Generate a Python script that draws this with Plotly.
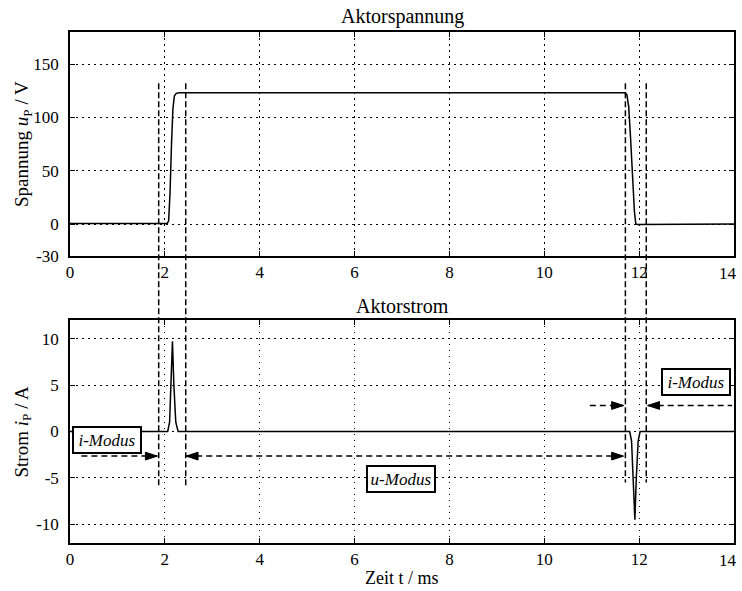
import plotly.graph_objects as go
from plotly.subplots import make_subplots

# ---------------- data ----------------
t_u = [0, 2.05, 2.08, 2.11, 2.14, 2.17, 2.20, 2.24, 2.30, 11.70, 11.74, 11.78, 11.82, 11.86, 11.90, 11.93, 11.96, 14]
u_p = [0.5, 0.5, 3, 30, 75, 108, 120, 122.5, 123, 123, 121.5, 110, 80, 45, 12, 0, -0.5, 0]

t_i = [0, 2.06, 2.10, 2.13, 2.16, 2.19, 2.23, 2.28, 11.80, 11.84, 11.88, 11.91, 11.94, 11.98, 12.02, 14]
i_p = [0, 0, 1, 5, 9.7, 5, 1, 0, 0, -1, -5, -9.5, -5, -1, 0, 0]

x_ticks = [0, 2, 4, 6, 8, 10, 12]
x_ticktext = ["0", "2", "4", "6", "8", "10", "12"]
x_last_label = "14"          # at the right border, placed separately so it stays on the page
u_ticks = [-30, 0, 50, 100, 150]
u_ticktext = ["-30", "0", "50", "100", "150"]
i_ticks = [-10, -5, 0, 5, 10]
i_ticktext = ["-10", "-5", "0", "5", "10"]
u_range = [-30, 180]
i_range = [-12, 12]
x_range = [0, 14]

# mode boundaries (vertical dashed lines spanning both plots)
bound_t = [1.87, 2.44, 11.71, 12.15]
bound_top_u = [132, 132, 132, 132]
bound_bot_i = [-5.9, -5.9, -5.5, -5.5]

# dashed arrow lines
arrow_t0 = [0.24, 2.45, 10.96, 12.18]
arrow_t1 = [1.84, 11.67, 11.67, 13.96]
arrow_lvl = [-2.65, -2.65, 2.8, 2.8]
arrow_head0 = [False, True, False, True]
arrow_head1 = [True, True, True, False]
head_len = 0.25    # arrowhead length in ms
head_half = 0.42   # arrowhead half height in A

# mode labels
label_text = ["i-Modus", "u-Modus", "i-Modus"]
label_t = [0.77, 6.97, 13.2]
label_i = [-0.9, -5.1, 5.3]

# ---------------- layout geometry ----------------
dom_top = [0.5616, 1.0]
dom_bot = [0.0, 0.4364]

FONT = "Liberation Serif, Times New Roman, Times, serif"


def to_paper(v, rng, dom):
    return dom[0] + (v - rng[0]) / (rng[1] - rng[0]) * (dom[1] - dom[0])


fig = make_subplots(rows=2, cols=1, shared_xaxes=False)

fig.add_trace(go.Scatter(x=t_u, y=u_p, mode="lines",
                         line=dict(color="black", width=1.5), showlegend=False),
              row=1, col=1)
fig.add_trace(go.Scatter(x=t_i, y=i_p, mode="lines",
                         line=dict(color="black", width=1.5), showlegend=False),
              row=2, col=1)

axis_common = dict(
    showline=True, linecolor="black", linewidth=1.5, mirror="allticks",
    ticks="inside", ticklen=5, tickwidth=1, tickcolor="black",
    showgrid=True, gridcolor="black", gridwidth=1, griddash="1.5px,4.5px",
    zeroline=False, tickfont=dict(family=FONT, size=17, color="black"),
)

fig.update_layout(
    xaxis=dict(axis_common, range=x_range, tickvals=x_ticks, ticktext=x_ticktext,
               domain=[0, 1], anchor="y", ticklabelstandoff=0),
    yaxis=dict(axis_common, range=u_range, tickvals=u_ticks, ticktext=u_ticktext,
               domain=dom_top, anchor="x", ticklabelstandoff=6),
    xaxis2=dict(axis_common, range=x_range, tickvals=x_ticks, ticktext=x_ticktext,
                domain=[0, 1], anchor="y2", ticklabelstandoff=0),
    yaxis2=dict(axis_common, range=i_range, tickvals=i_ticks, ticktext=i_ticktext,
                domain=dom_bot, anchor="x2", ticklabelstandoff=6),
    width=742, height=591,
    margin=dict(l=70, r=6, t=32, b=48),
    paper_bgcolor="white", plot_bgcolor="white",
    font=dict(family=FONT, color="black"),
    showlegend=False,
)

# last x tick label ("14") kept inside the page
for xr, yr in (("x", "y"), ("x2", "y2")):
    fig.add_annotation(x=x_range[1], y=0, xref=xr, yref=yr + " domain", xanchor="right",
                       yanchor="top", xshift=5, yshift=-6, showarrow=False,
                       text=x_last_label, font=dict(family=FONT, size=17, color="black"))

# vertical dashed boundary lines across both plots
for t, top, bot in zip(bound_t, bound_top_u, bound_bot_i):
    fig.add_shape(type="line", xref="x", yref="paper",
                  x0=t, x1=t,
                  y0=to_paper(top, u_range, dom_top), y1=to_paper(bot, i_range, dom_bot),
                  line=dict(color="black", width=1.5, dash="6px,3px"))

# dashed horizontal arrow lines with filled arrowheads
for t0, t1, lv, h0, h1 in zip(arrow_t0, arrow_t1, arrow_lvl, arrow_head0, arrow_head1):
    fig.add_shape(type="line", xref="x2", yref="y2", x0=t0, x1=t1, y0=lv, y1=lv,
                  line=dict(color="black", width=1.5, dash="6px,4px"))
    if h1:
        fig.add_shape(type="path", xref="x2", yref="y2",
                      path="M %f,%f L %f,%f L %f,%f Z" % (t1, lv, t1 - head_len, lv + head_half,
                                                        t1 - head_len, lv - head_half),
                      fillcolor="black", line=dict(color="black", width=1))
    if h0:
        fig.add_shape(type="path", xref="x2", yref="y2",
                      path="M %f,%f L %f,%f L %f,%f Z" % (t0, lv, t0 + head_len, lv + head_half,
                                                        t0 + head_len, lv - head_half),
                      fillcolor="black", line=dict(color="black", width=1))

# mode labels in boxes
for txt, t, lv in zip(label_text, label_t, label_i):
    fig.add_annotation(x=t, y=lv, xref="x2", yref="y2", showarrow=False,
                       text="<i>%s</i>" % txt,
                       font=dict(family=FONT, size=17, color="black"),
                       bgcolor="white", bordercolor="black", borderwidth=2,
                       borderpad=2, width=62, height=20)

# titles
fig.add_annotation(x=0.5, y=dom_top[1], xref="paper", yref="paper", xanchor="center",
                   yanchor="bottom", yshift=2, showarrow=False, text="Aktorspannung",
                   font=dict(family=FONT, size=20, color="black"))
fig.add_annotation(x=0.5, y=dom_bot[1], xref="paper", yref="paper", xanchor="center",
                   yanchor="bottom", yshift=1, showarrow=False, text="Aktorstrom",
                   font=dict(family=FONT, size=20, color="black"))
fig.add_annotation(x=0.5, y=0, xref="paper", yref="paper", xanchor="center",
                   yanchor="bottom", yshift=-47, showarrow=False, text="Zeit t / ms",
                   font=dict(family=FONT, size=18, color="black"))

# y axis titles
fig.add_annotation(x=0, y=(dom_top[0] + dom_top[1]) / 2, xref="paper", yref="paper",
                   xanchor="center", yanchor="middle", xshift=-47, textangle=-90,
                   showarrow=False, text="Spannung <i>u</i><sub>P</sub> / V",
                   font=dict(family=FONT, size=19, color="black"))
fig.add_annotation(x=0, y=(dom_bot[0] + dom_bot[1]) / 2, xref="paper", yref="paper",
                   xanchor="center", yanchor="middle", xshift=-47, textangle=-90,
                   showarrow=False, text="Strom <i>i</i><sub>P</sub> / A",
                   font=dict(family=FONT, size=19, color="black"))

fig.write_html("out.html", config={"displayModeBar": False},
               post_script="document.body.style.margin='0';")
